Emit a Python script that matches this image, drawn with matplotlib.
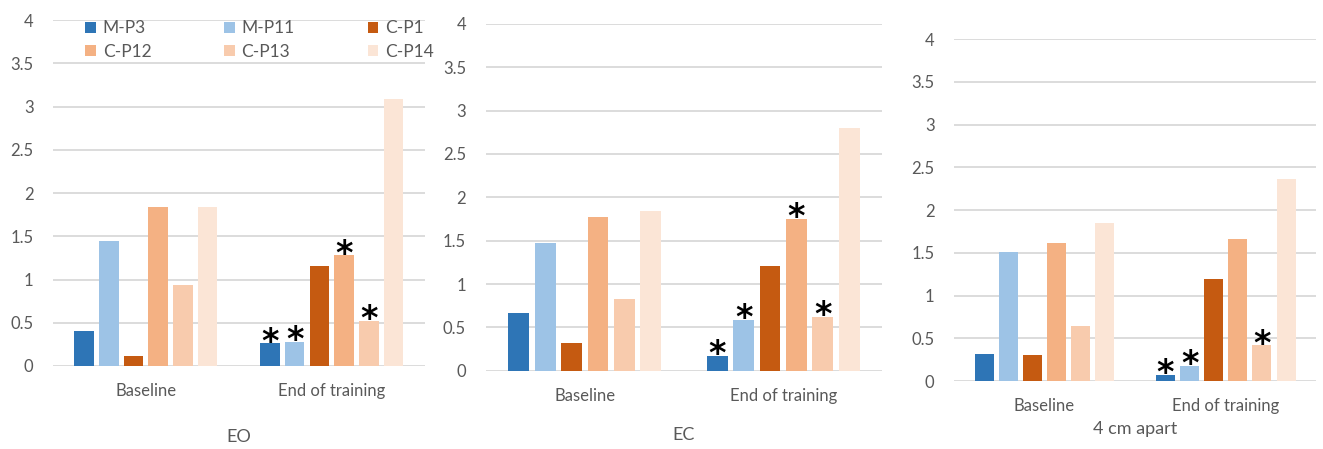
import matplotlib.pyplot as plt
import numpy as np

plt.rcParams['font.family'] = ['Lato', 'DejaVu Sans']

categories = ["Baseline", "End of training"]
series = ["M-P3", "M-P11", "C-P1", "C-P12", "C-P13", "C-P14"]
colors = ["#2E75B6", "#9DC3E6", "#C55A11", "#F4B183", "#F8CBAD", "#FBE5D6"]
panels = ["EO", "EC", "4 cm apart"]

# values per panel: one list per series -> [Baseline, End of training]
eo = [[0.40, 0.26], [1.45, 0.28], [0.12, 1.16], [1.84, 1.28], [0.94, 0.52], [1.84, 3.09]]
ec = [[0.67, 0.17], [1.47, 0.59], [0.32, 1.21], [1.77, 1.75], [0.83, 0.62], [1.84, 2.80]]
cm4 = [[0.32, 0.07], [1.51, 0.18], [0.31, 1.19], [1.62, 1.66], [0.65, 0.42], [1.85, 2.36]]
data = [eo, ec, cm4]

# significance stars at End of training (series names)
stars = [["M-P3", "M-P11", "C-P12", "C-P13"],
         ["M-P3", "M-P11", "C-P12", "C-P13"],
         ["M-P3", "M-P11", "C-P13"]]

fig = plt.figure(figsize=(13.23, 4.49), dpi=100)
rects = [[0.040, 0.185, 0.281, 0.770],
         [0.367, 0.174, 0.300, 0.773],
         [0.721, 0.151, 0.274, 0.762]]
labelpads = [22, 17, 5]

x = np.arange(len(categories))
pitch = 0.133
width = 0.105
grey = "#595959"

for p, vals in enumerate(data):
    ax = fig.add_axes(rects[p])
    for i, s in enumerate(series):
        off = (i - 2.5) * pitch
        ax.bar(x + off, vals[i], width, color=colors[i], label=s, zorder=3)
        if s in stars[p]:
            ax.annotate("*", (x[1] + off, vals[i][1]), xytext=(0, -11),
                        textcoords="offset points", ha="center", va="bottom",
                        fontsize=24, fontweight="bold", color="black",
                        family="DejaVu Sans", zorder=4)
    ax.set_ylim(0, 4)
    ax.set_xlim(-0.5, 1.5)
    ax.set_yticks(np.arange(0, 4.01, 0.5))
    ax.set_yticklabels(["0", "0.5", "1", "1.5", "2", "2.5", "3", "3.5", "4"])
    ax.set_xticks(x)
    ax.set_xticklabels(categories)
    ax.grid(axis="y", color="#D9D9D9", linewidth=1.3, zorder=0)
    for sp in ["top", "right", "left", "bottom"]:
        ax.spines[sp].set_visible(False)
    ax.tick_params(length=0, colors=grey, labelsize=12)
    ax.tick_params(axis="x", pad=12)
    ax.tick_params(axis="y", pad=14)
    ax.set_xlabel(panels[p], fontsize=13, color=grey, labelpad=labelpads[p])
    if p == 0:
        order = [0, 3, 1, 4, 2, 5]
        h, l = ax.get_legend_handles_labels()
        leg = ax.legend([h[k] for k in order], [l[k] for k in order], ncol=3,
                        loc="upper left", bbox_to_anchor=(0.045, 1.045),
                        frameon=False, fontsize=12.5, handlelength=0.6,
                        handleheight=0.6, handletextpad=0.4,
                        columnspacing=4.2, labelspacing=0.45)
        for t in leg.get_texts():
            t.set_color(grey)

plt.savefig("out.png", dpi=100)
